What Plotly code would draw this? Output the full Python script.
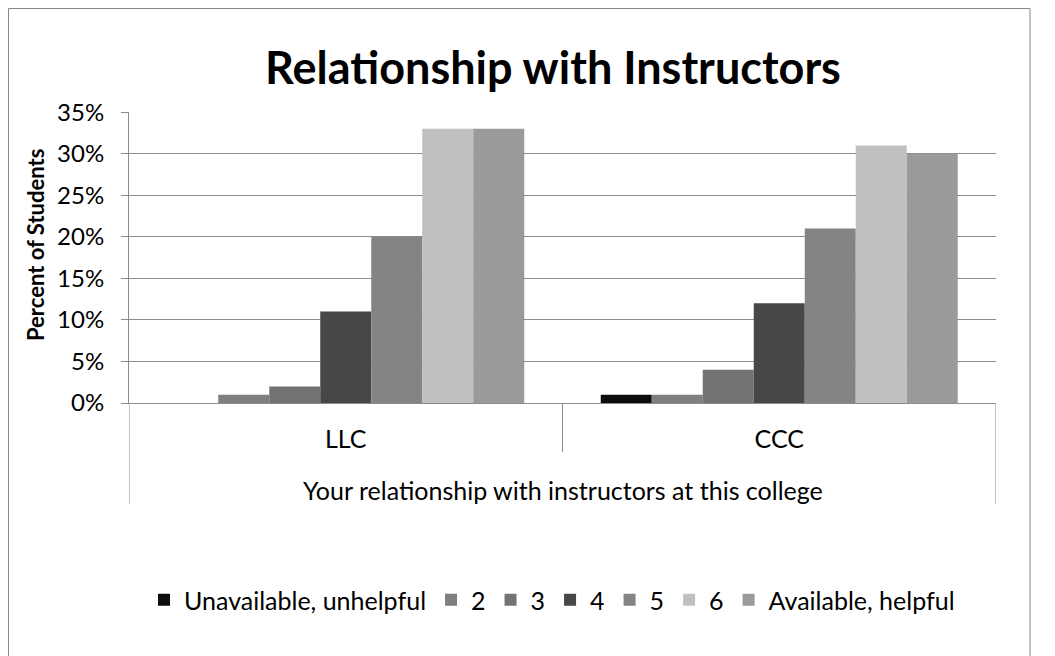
import plotly.graph_objects as go

categories = ["LLC", "CCC"]
series_names = ["Unavailable, unhelpful", "2", "3", "4", "5", "6", "Available, helpful"]
series_values = [
    [0.00, 0.01],
    [0.01, 0.01],
    [0.02, 0.04],
    [0.11, 0.12],
    [0.20, 0.21],
    [0.33, 0.31],
    [0.33, 0.30],
]
series_colors = ["#0d0d0d", "#7f7f7f", "#737373", "#474747", "#848484", "#c0c0c0", "#9a9a9a"]
y_ticks = [0, 0.05, 0.10, 0.15, 0.20, 0.25, 0.30, 0.35]
y_tick_labels = ["0%", "5%", "10%", "15%", "20%", "25%", "30%", "35%"]

OFF = 8  # default body margin of the html page
W, H = 1055, 656
# target plot area in page pixels: x 129..996, y 112..403
L = 129 - OFF
T = 112 - OFF
R = W - (996 - OFF)
B = H - (403 - OFF)
PW, PH = W - L - R, H - T - B

def px_x(px):
    return (px - OFF - L) / PW

def px_y(py):
    return (H - B - (py - OFF)) / PH

FONT = "Lato"
GRID = "#8c8c8c"

fig = go.Figure()
for name, vals, col in zip(series_names, series_values, series_colors):
    fig.add_trace(go.Bar(x=categories, y=vals, name=name, marker=dict(color=col, line=dict(width=0))))

fig.update_layout(
    width=W, height=H,
    margin=dict(l=L, r=R, t=T, b=B, autoexpand=False),
    paper_bgcolor="white", plot_bgcolor="white",
    barmode="group", bargap=1.5 / 8.5, bargroupgap=0,
    font=dict(family=FONT, size=25, color="#000000"),
    title=dict(text="<b>Relationship with Instructors</b>", font=dict(family=FONT, size=45, color="#000000"),
               x=px_x(553), xref="paper", xanchor="center", y=1 - (68 - OFF) / H, yanchor="middle"),
    showlegend=True,
    legend=dict(orientation="h", x=px_x(552), xanchor="center", y=px_y(600), yanchor="middle",
                font=dict(family=FONT, size=25, color="#000000"), traceorder="normal",
                bgcolor="rgba(0,0,0,0)"),
)

fig.update_xaxes(
    type="category", range=[-0.5, 1.5], showgrid=False,
    showline=True, linecolor=GRID, linewidth=1,
    ticks="", ticklabelstandoff=14, tickfont=dict(family=FONT, size=25, color="#000000"),
    automargin=False,
)
fig.update_yaxes(
    range=[0, 0.3502], tickvals=y_ticks, ticktext=y_tick_labels,
    showgrid=True, gridcolor=GRID, gridwidth=1,
    showline=True, linecolor=GRID, linewidth=1,
    ticks="outside", ticklen=7, tickcolor=GRID, ticklabelstandoff=12,
    tickfont=dict(family=FONT, size=24, color="#000000"),
    zeroline=False,
    automargin=False,
)

# y-axis title placed where the reference has it
fig.add_annotation(text="<b>Percent of Students</b>", xref="paper", yref="paper",
                   x=px_x(35), y=px_y(245), xanchor="center", yanchor="middle", textangle=-90,
                   showarrow=False, font=dict(family=FONT, size=22, color="#000000"))

# category-axis separators and outer frame
line_style = dict(color=GRID, width=1)
fig.add_shape(type="line", xref="x", yref="paper", x0=-0.5, x1=-0.5, y0=0, y1=px_y(504), line=line_style)
fig.add_shape(type="line", xref="x", yref="paper", x0=0.5, x1=0.5, y0=0, y1=px_y(452), line=line_style)
fig.add_shape(type="line", xref="x", yref="paper", x0=1.5, x1=1.5, y0=0, y1=px_y(504), line=line_style)
fig.add_shape(type="rect", xref="paper", yref="paper", x0=px_x(OFF + 0.5), x1=px_x(1030), y0=px_y(700),
              y1=px_y(OFF + 0.5), line=dict(color="#868686", width=1), fillcolor="rgba(0,0,0,0)", layer="below")

fig.add_annotation(text="Your relationship with instructors at this college", xref="paper", yref="paper",
                   x=px_x(563), y=px_y(490), xanchor="center", yanchor="middle", showarrow=False,
                   font=dict(family=FONT, size=25, color="#000000"))

fig.write_html("out.html")
